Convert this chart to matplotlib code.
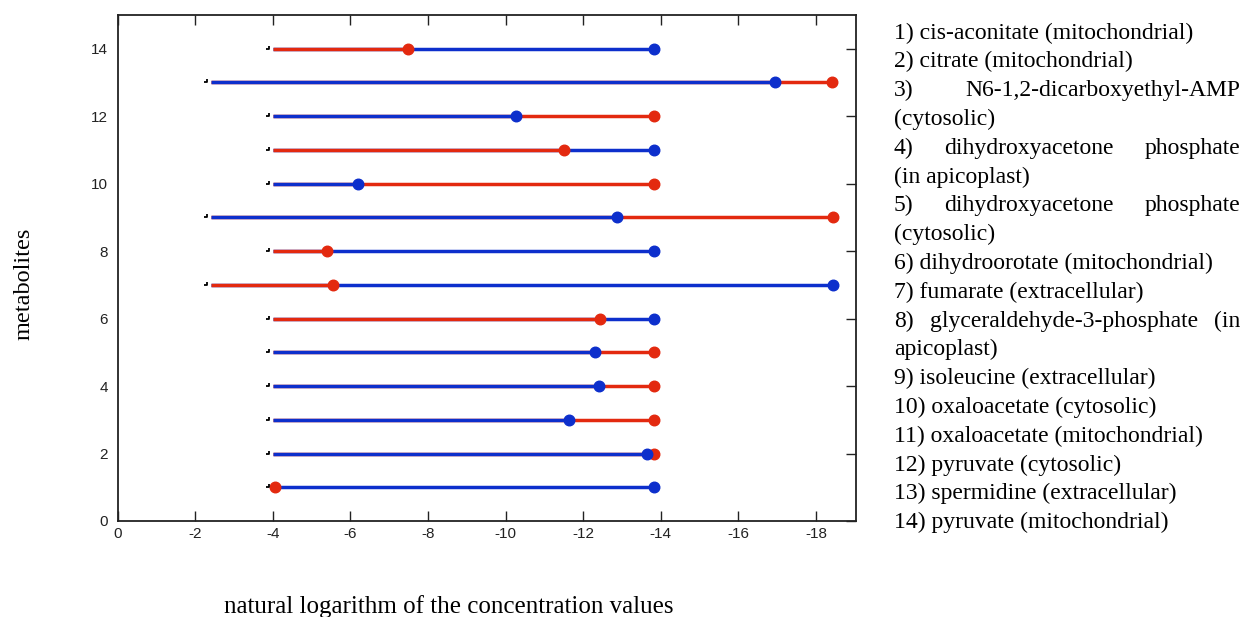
import matplotlib
matplotlib.use("Agg")
import matplotlib.pyplot as plt
from matplotlib.path import Path

plt.rcParams['axes.unicode_minus'] = False

# ---------------- data ----------------
rows = list(range(1, 15))
start_vals = [-4.0, -4.0, -4.0, -4.0, -4.0, -4.0, -2.4, -4.0, -2.4, -4.0, -4.0, -4.0, -2.4, -4.0]
red_vals = [-4.06, -13.83, -13.83, -13.83, -13.83, -12.43, -5.56, -5.40, -18.43, -13.83, -11.51, -13.83, -18.42, -7.48]
blue_vals = [-13.83, -13.64, -11.64, -12.40, -12.29, -13.83, -18.43, -13.83, -12.86, -6.20, -13.83, -10.26, -16.93, -13.83]
x_ticks = [0, -2, -4, -6, -8, -10, -12, -14, -16, -18]
y_ticks = [0, 2, 4, 6, 8, 10, 12, 14]
legend_lines = [
    "1) cis-aconitate (mitochondrial)",
    "2) citrate (mitochondrial)",
    "3) N6-1,2-dicarboxyethyl-AMP",
    "(cytosolic)",
    "4) dihydroxyacetone phosphate",
    "(in apicoplast)",
    "5) dihydroxyacetone phosphate",
    "(cytosolic)",
    "6) dihydroorotate (mitochondrial)",
    "7) fumarate (extracellular)",
    "8) glyceraldehyde-3-phosphate (in",
    "apicoplast)",
    "9) isoleucine (extracellular)",
    "10) oxaloacetate (cytosolic)",
    "11) oxaloacetate (mitochondrial)",
    "12) pyruvate (cytosolic)",
    "13) spermidine (extracellular)",
    "14) pyruvate (mitochondrial)",
]
justified_lines = {2, 4, 6, 10}

RED = '#e3290f'
BLUE = '#0d2fcc'

W, H = 1243, 617
fig = plt.figure(figsize=(W / 100, H / 100), dpi=100)
ax = fig.add_axes([117.7 / W, (H - 521) / H, (856 - 117.7) / W, (521 - 15) / H])

corner = Path([(-1.0, -0.05), (-0.55, -0.05), (-0.55, 0.4)],
              [Path.MOVETO, Path.LINETO, Path.LINETO])

for y, s, r, b in zip(rows, start_vals, red_vals, blue_vals):
    segs = [(r, RED), (b, BLUE)]
    # longer segment drawn first, shorter on top
    segs.sort(key=lambda t: abs(t[0] - s), reverse=True)
    for end, col in segs:
        ax.plot([s, end], [y, y], color=col, lw=2.5, solid_capstyle='butt', zorder=2)
    for end, col in segs:
        ax.plot([end], [y], 'o', color=col, ms=7.6, mec=col, zorder=3)
    ax.plot([s], [y], marker=corner, ms=10, color='black', mew=1.3,
            fillstyle='none', linestyle='none', zorder=4)

ax.set_xlim(0, -19.03)
ax.set_ylim(0, 15)
ax.set_xticks(x_ticks)
ax.set_xticklabels([str(t) for t in x_ticks])
ax.set_yticks(y_ticks)
ax.set_yticklabels([str(t) for t in y_ticks])
ax.tick_params(axis='x', direction='in', length=7, width=1, top=True, bottom=True,
               labelsize=11, pad=4, colors='#222222')
ax.tick_params(axis='y', direction='in', length=7, width=1, left=False, right=True,
               labelsize=11, pad=7, colors='#222222')
for lab in ax.get_xticklabels() + ax.get_yticklabels():
    lab.set_family('Liberation Sans')
for sp in ax.spines.values():
    sp.set_linewidth(1.3)
    sp.set_color('#222222')

# axis labels as placed text
fig.text(24 / W, 1 - 284 / H, 'metabolites', rotation=90, ha='center', va='center',
         fontsize=17.5, family='Liberation Serif')
fig.text(223.5 / W, 1 - 613 / H, 'natural logarithm of the concentration values',
         ha='left', va='baseline', fontsize=18, family='Liberation Serif')

# legend text block with justification
fig.canvas.draw()
renderer = fig.canvas.get_renderer()
x_left, x_right = 894, 1240
y0, dy = 33, 28.8
fs = 17
for i, line in enumerate(legend_lines):
    yc = 1 - (y0 + i * dy) / H
    if i in justified_lines:
        words = line.split(' ')
        texts = [fig.text(0, yc, w, ha='left', va='center', fontsize=fs,
                          family='Liberation Serif') for w in words]
        widths = [t.get_window_extent(renderer).width for t in texts]
        gap = (x_right - x_left - sum(widths)) / (len(words) - 1)
        x = x_left
        for t, w in zip(texts, widths):
            t.set_x(x / W)
            x += w + gap
    else:
        fig.text(x_left / W, yc, line, ha='left', va='center', fontsize=fs,
                 family='Liberation Serif')

fig.savefig('out.png', dpi=100)
